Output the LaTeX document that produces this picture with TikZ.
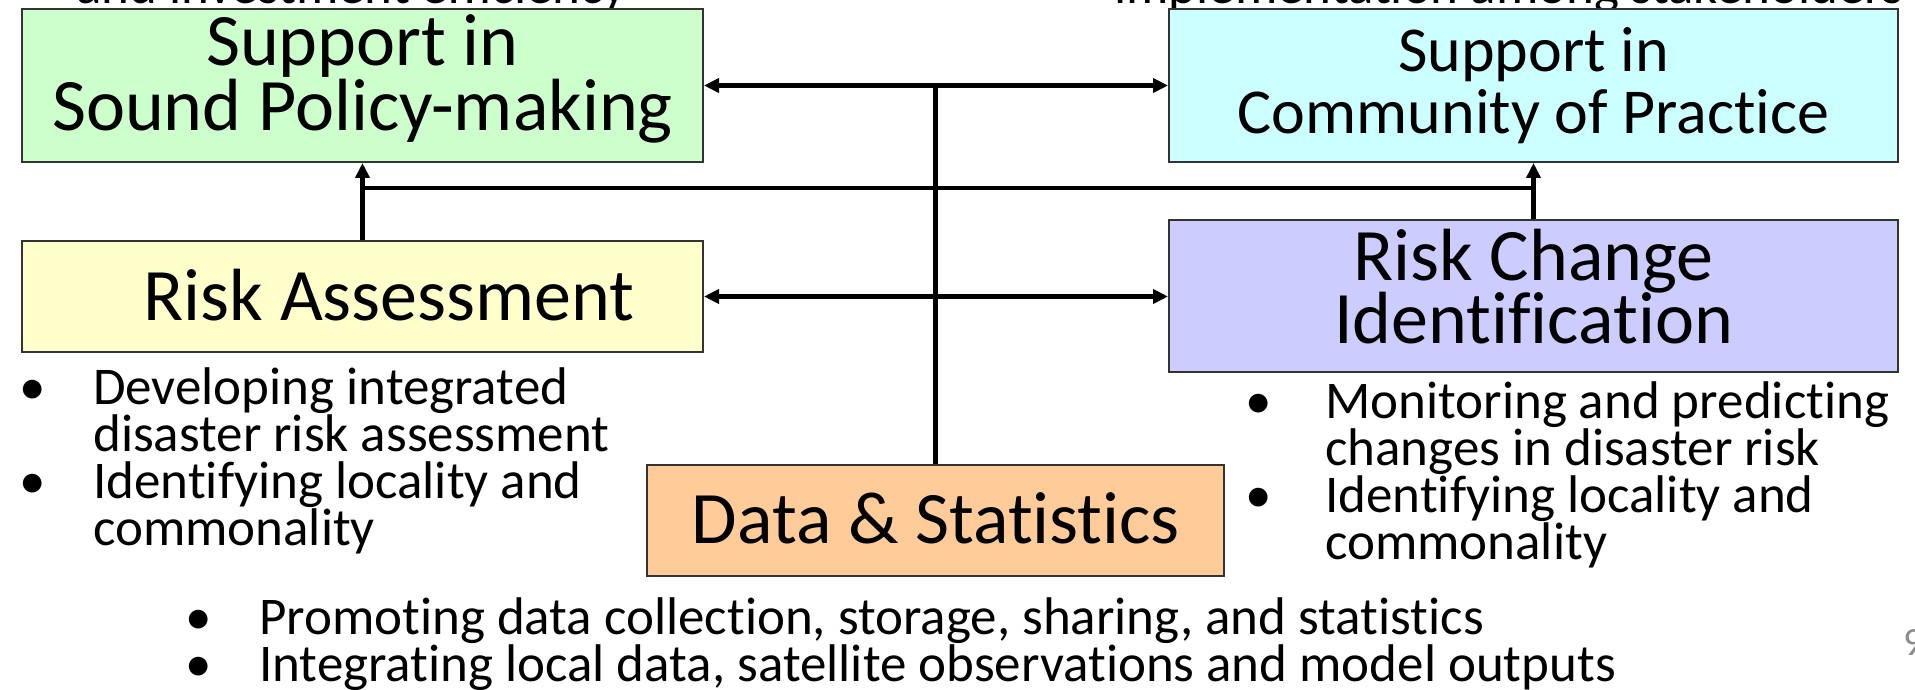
\documentclass[tikz,border=0pt]{standalone}
\usepackage{fontspec}
\setmainfont{Carlito}[RawFeature={-liga}]
\usetikzlibrary{arrows.meta}
\definecolor{cgreen}{HTML}{CCFFCC}
\definecolor{ccyan}{HTML}{CCFFFF}
\definecolor{cyellow}{HTML}{FFFFCC}
\definecolor{cpurple}{HTML}{CCCCFF}
\definecolor{corange}{HTML}{FFCC99}
\begin{document}
\begin{tikzpicture}[x=1pt,y=-1pt,
  >={Triangle[length=15pt,width=14pt]},
  box/.style={draw=black!80, line width=2pt, inner sep=0pt, rectangle},
  big/.style={inner sep=0pt, anchor=base, font=\fontsize{74}{66}\selectfont},
  mid/.style={inner sep=0pt, anchor=base, font=\fontsize{64}{60}\selectfont},
  bul/.style={inner sep=0pt, anchor=base west, font=\fontsize{53}{46}\selectfont},
  dot/.style={inner sep=0pt, anchor=base, font=\fontsize{53}{46}\selectfont},
  conn/.style={line width=4.5pt, draw=black}]
\useasboundingbox (0,0) rectangle (1915,690);
\clip (0,0) rectangle (1915,690);

% partly visible lines at the top edge
\node[bul] (tl) at (76,4) {and investment efficiency};
\node[bul] (tr) at (1114,4) {implementation among stakeholders};

% boxes
\node[box, fill=cgreen,  minimum width=681pt, minimum height=153pt] (spm) at (362.5,85.5) {};
\node[box, fill=ccyan,   minimum width=729pt, minimum height=153pt] (scp) at (1533.5,85.5) {};
\node[box, fill=cyellow, minimum width=681pt, minimum height=111pt] (ra)  at (362.5,296.5) {};
\node[box, fill=cpurple, minimum width=729pt, minimum height=152pt] (rc)  at (1533.5,295.5) {};
\node[box, fill=corange, minimum width=577pt, minimum height=111pt] (ds)  at (935.5,520.5) {};

% box texts
\node[big] (spm1) at (362.5,66) {Support in};
\node[big] (spm2) at (362.5,131) {Sound Policy-making};
\node[mid] (scp1) at (1533.5,72) {Support in};
\node[mid] (scp2) at (1533.5,134) {Community of Practice};
\node[big] (ra1) at (389,320) {Risk Assessment};
\node[big] (rc1) at (1533.5,280) {Risk Change};
\node[big] (rc2) at (1533.5,343) {Identification};
\node[big] (ds1) at (936,543) {Data \& Statistics};

% connectors
\draw[conn,<->] (spm.east) -- (scp.west);
\draw[conn] (ds.north) -- (ds.north |- spm.east);
\draw[conn,<->] (ra.east) -- (ra.east -| rc.west);
\draw[conn,->] (ra.north) -- (spm.south);
\draw[conn,->] (rc.north) -- (scp.south);
\coordinate (hy) at (0,188);
\draw[conn] (ra.north |- hy) -- (rc.north |- hy);

% left bullets
\node[dot] (lb1) at (33,404) {•};
\node[bul] (l1) at (93,404) {Developing integrated};
\node[bul] (l2) at (93,451) {disaster risk assessment};
\node[dot] (lb2) at (33,498) {•};
\node[bul] (l3) at (93,498) {Identifying locality and};
\node[bul] (l4) at (93,545) {commonality};

% right bullets
\node[dot] (rb1) at (1259,418) {•};
\node[bul] (r1) at (1325,418) {Monitoring and predicting};
\node[bul] (r2) at (1325,465) {changes in disaster risk};
\node[dot] (rb2) at (1259,512) {•};
\node[bul] (r3) at (1325,512) {Identifying locality and};
\node[bul] (r4) at (1325,559) {commonality};

% bottom bullets
\node[dot] (bb1) at (199,634) {•};
\node[bul] (b1) at (259,634) {Promoting data collection, storage, sharing, and statistics};
\node[dot] (bb2) at (199,681) {•};
\node[bul] (b2) at (259,681) {Integrating local data, satellite observations and model outputs};

% page number
\node[inner sep=0pt, anchor=base west, font=\fontsize{40}{40}\selectfont, text=black!45] (pg) at (1903,655) {9};
\end{tikzpicture}
\end{document}
